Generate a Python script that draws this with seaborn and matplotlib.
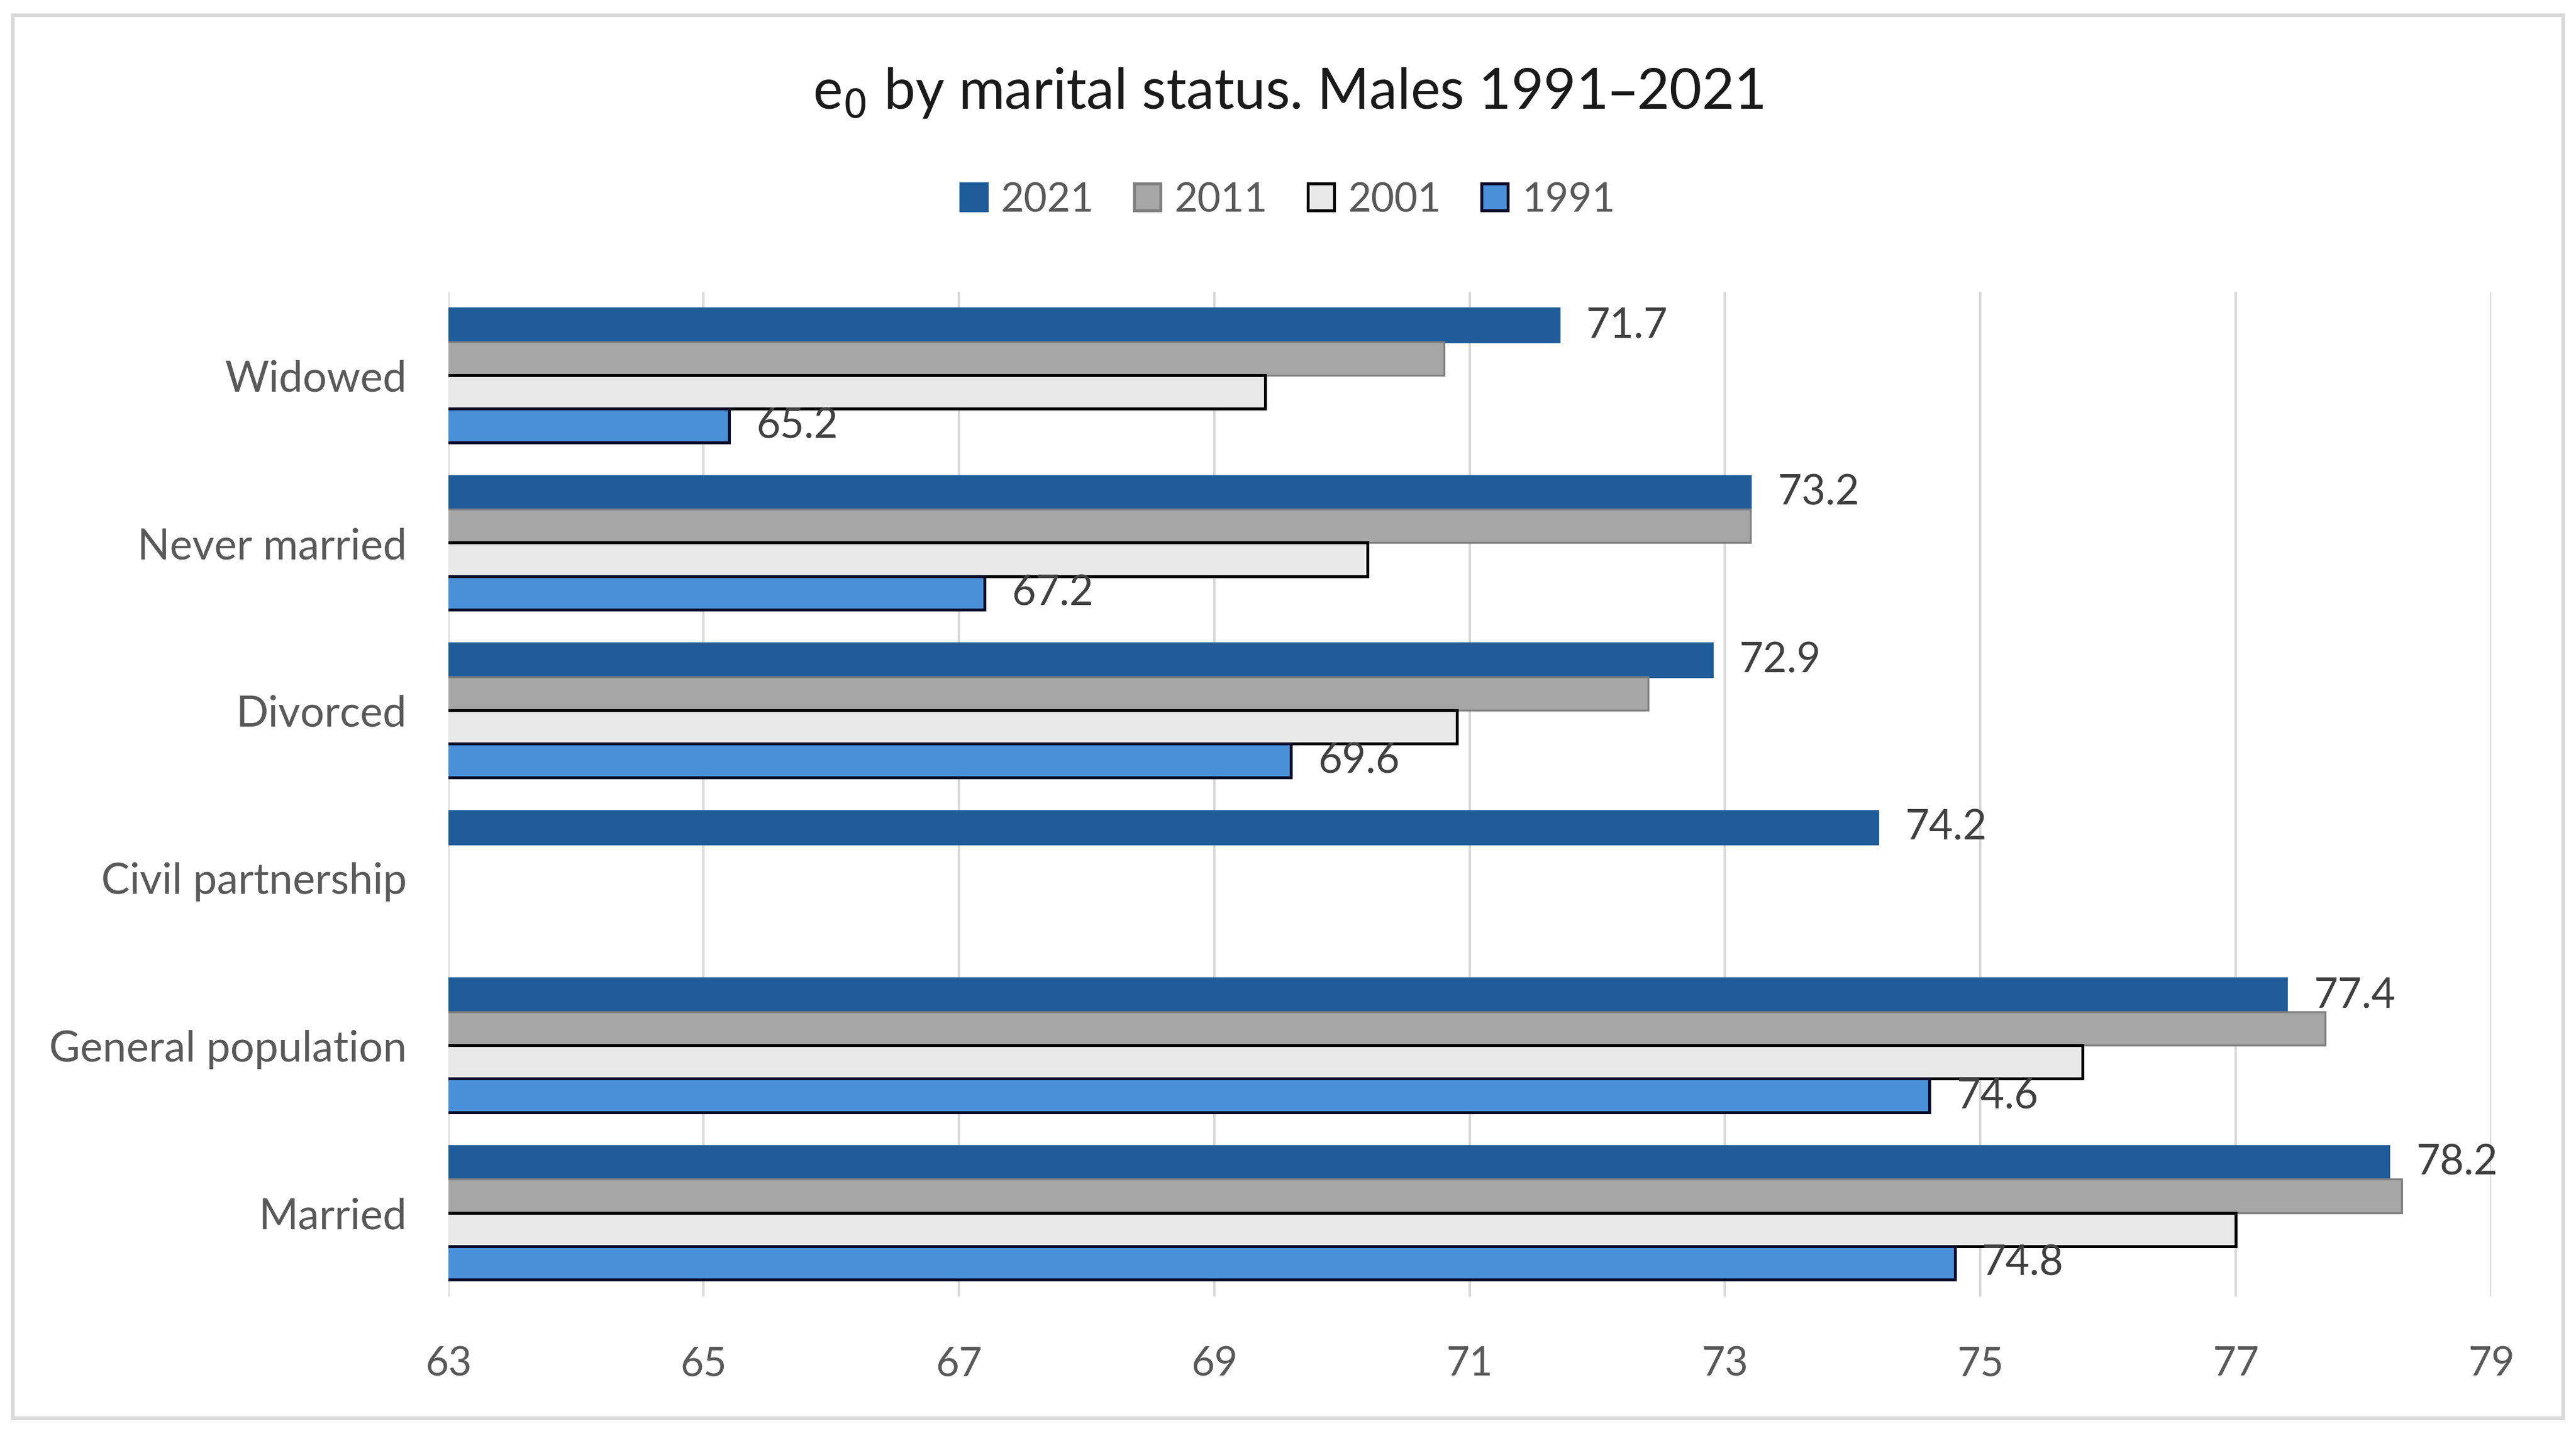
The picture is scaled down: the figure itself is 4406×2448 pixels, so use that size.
import numpy as np
import pandas as pd
import matplotlib
matplotlib.use("Agg")
import matplotlib.pyplot as plt
import seaborn as sns
from matplotlib.patches import Rectangle, Patch

categories = ["Widowed", "Never married", "Divorced", "Civil partnership",
              "General population", "Married"]
years = ["2021", "2011", "2001", "1991"]
v2021 = [71.7, 73.2, 72.9, 74.2, 77.4, 78.2]
v2011 = [70.8, 73.2, 72.4, np.nan, 77.7, 78.3]
v2001 = [69.4, 70.2, 70.9, np.nan, 75.8, 77.0]
v1991 = [65.2, 67.2, 69.6, np.nan, 74.6, 74.8]
xticks = [63, 65, 67, 69, 71, 73, 75, 77, 79]

colors = {"2021": "#1f5c99", "2011": "#a6a6a6", "2001": "#e8e8e8", "1991": "#4a90d9"}
edges = {"2021": "#1f5c99", "2011": "#808080", "2001": "#000000", "1991": "#0a0a2a"}

df = pd.DataFrame({
    "category": categories * 4,
    "year": sum([[y] * len(categories) for y in years], []),
    "value": v2021 + v2011 + v2001 + v1991,
})

sns.set_theme(style="white")
plt.rcParams['font.family'] = ['Lato', 'DejaVu Sans']

fig = plt.figure(figsize=(14.687, 8.163), dpi=300)
ax = fig.add_axes([0.174, 0.094, 0.793, 0.702])

sns.barplot(data=df, y="category", x="value", hue="year", order=categories,
            hue_order=years, palette=colors, orient="h", width=0.8,
            ax=ax, legend=False, saturation=1)

for container, yr in zip(ax.containers, years):
    for bar in container:
        bar.set_edgecolor(edges[yr])
        bar.set_linewidth(1.2 if yr in ("2001", "1991") else 0.8)
    if yr in ("2021", "1991"):
        labels = ["" if np.isnan(v) else f"{v:.1f}" for v in container.datavalues]
        ax.bar_label(container, labels=labels, padding=11, fontsize=17,
                     color="#404040")

ax.set_xlim(63, 79)
ax.set_xticks(xticks)
ax.set_xticklabels([str(t) for t in xticks], fontsize=16.5, color="#595959")
ax.tick_params(axis="x", length=0, pad=20)
ax.tick_params(axis="y", length=0, pad=17, labelsize=17.5, labelcolor="#595959")
ax.set_xlabel("")
ax.set_ylabel("")
ax.xaxis.grid(True, color="#d9d9d9", linewidth=1.0)
ax.set_axisbelow(True)
for s in ax.spines.values():
    s.set_visible(False)

fig.text(0.5, 0.935, r"e$_0$ by marital status. Males 1991–2021",
         ha="center", va="center", fontsize=23, color="#1a1a1a")

handles = [Patch(facecolor=colors[y], edgecolor=edges[y], linewidth=1.2) for y in years]
fig.legend(handles, years, loc="center", bbox_to_anchor=(0.5, 0.860), ncol=4,
           frameon=False, fontsize=16.5, handlelength=0.65, handleheight=0.65,
           handletextpad=0.35, columnspacing=1.0, labelcolor="#595959")

fig.patches.append(Rectangle((0.005, 0.009), 0.99, 0.98, transform=fig.transFigure,
                             fill=False, edgecolor="#d9d9d9", linewidth=1.5))

fig.savefig("out.png", dpi=300, facecolor="white")
